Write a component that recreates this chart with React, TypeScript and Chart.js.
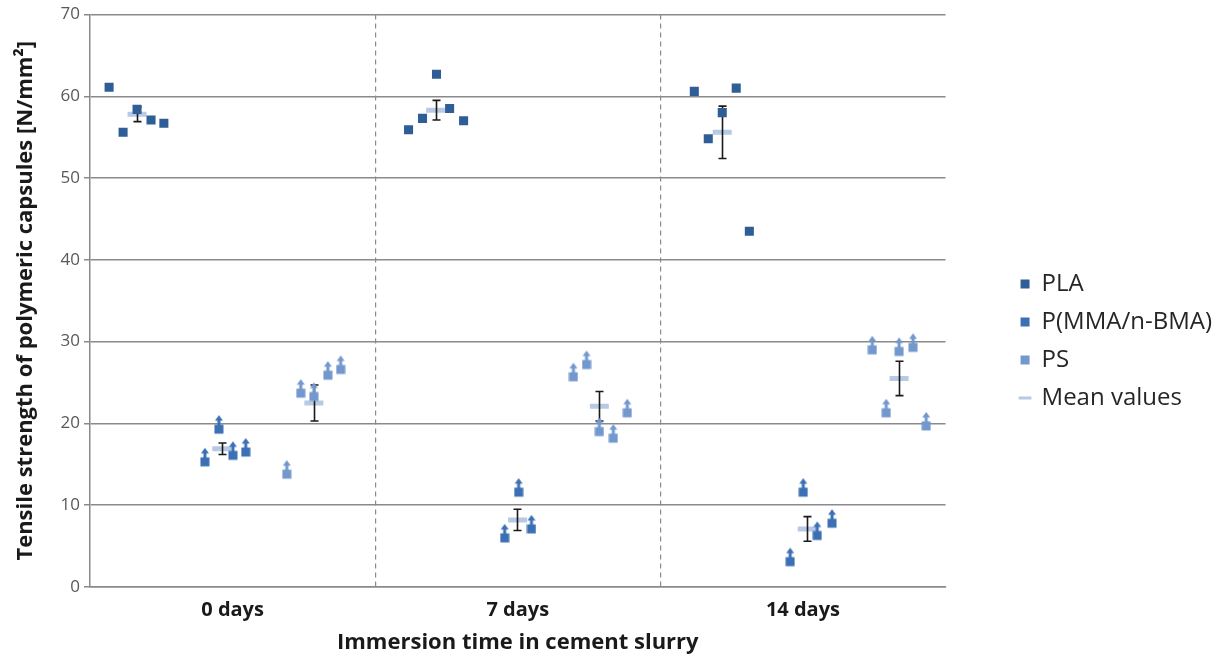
import React, { useEffect, useRef } from 'react';
import { Chart, registerables } from 'chart.js';

Chart.register(...registerables);

// ---- Data -------------------------------------------------------------
const categories = ['0 days', '7 days', '14 days'];
const seriesNames = ['PLA', 'P(MMA/n-BMA)', 'PS', 'Mean values'];

// x = position along the category axis (each category spans one unit)
const plaX = [0.067, 0.116, 0.165, 0.214, 0.259, 1.117, 1.166, 1.215, 1.261, 1.31, 2.119, 2.168, 2.217, 2.266, 2.312];
const plaY = [61.1, 55.6, 58.4, 57.1, 56.7, 55.9, 57.3, 62.7, 58.5, 57.0, 60.6, 54.8, 58.0, 61.0, 43.5];

const pmmaX = [0.403, 0.452, 0.501, 0.546, 1.454, 1.503, 1.548, 2.455, 2.501, 2.55, 2.602];
const pmmaY = [15.3, 19.3, 16.1, 16.5, 6.0, 11.6, 7.1, 3.1, 11.6, 6.3, 7.8];

const psX = [0.69, 0.739, 0.785, 0.834, 0.879, 1.695, 1.741, 1.786, 1.835, 1.884, 2.743, 2.792, 2.837, 2.886, 2.932];
const psY = [13.8, 23.7, 23.3, 25.9, 26.6, 25.7, 27.2, 19.0, 18.2, 21.3, 29.0, 21.3, 28.8, 29.3, 19.7];

const meanX = [0.165, 0.462, 0.785, 1.212, 1.499, 1.786, 2.217, 2.515, 2.837];
const meanY = [57.8, 16.9, 22.5, 58.3, 8.2, 22.1, 55.6, 7.1, 25.5];
const meanErr = [0.9, 0.7, 2.2, 1.2, 1.3, 1.8, 3.2, 1.5, 2.1];

const yTicks = [0, 10, 20, 30, 40, 50, 60, 70];

// ---- Styles -----------------------------------------------------------
const COLORS = ['#2F5E97', '#3C70B4', '#7398CE', '#B7C9E4'];
const FONT = "'Open Sans', 'Noto Sans', sans-serif";
const GRID = '#8A8A8A';

function makeArrowMarker(color: string): HTMLCanvasElement {
  const c = document.createElement('canvas');
  c.width = 10;
  c.height = 30;
  const g = c.getContext('2d')!;
  g.fillStyle = color;
  // square centred on the canvas centre
  g.fillRect(0.5, 10.5, 9, 9);
  // shaft
  g.fillRect(3.5, 6, 3, 5);
  // head
  g.beginPath();
  g.moveTo(5, 1);
  g.lineTo(9, 6.5);
  g.lineTo(1, 6.5);
  g.closePath();
  g.fill();
  return c;
}

const MEAN_INDEX = 3;

const errorBarPlugin = {
  id: 'errorBars',
  afterDatasetDraw(chart: any, args: any) {
    if (args.index !== MEAN_INDEX) return;
    const { ctx, scales } = chart;
    const x = scales.x;
    const y = scales.y;
    ctx.save();
    ctx.strokeStyle = '#1A1A1A';
    ctx.lineWidth = 1.6;
    meanX.forEach((mx, i) => {
      const px = Math.round(x.getPixelForValue(mx)) + 0.5;
      const top = y.getPixelForValue(meanY[i] + meanErr[i]);
      const bot = y.getPixelForValue(meanY[i] - meanErr[i]);
      ctx.beginPath();
      ctx.moveTo(px, top);
      ctx.lineTo(px, bot);
      ctx.moveTo(px - 4, top);
      ctx.lineTo(px + 4, top);
      ctx.moveTo(px - 4, bot);
      ctx.lineTo(px + 4, bot);
      ctx.stroke();
    });
    ctx.restore();
  },
};

export default function App() {
  const ref = useRef<HTMLCanvasElement | null>(null);

  useEffect(() => {
    if (!ref.current) return;
    const pmmaMarker = makeArrowMarker(COLORS[1]);
    const psMarker = makeArrowMarker(COLORS[2]);

    const toPts = (xs: number[], ys: number[]) => xs.map((v, i) => ({ x: v, y: ys[i] }));

    const chart = new Chart(ref.current, {
      type: 'scatter',
      data: {
        datasets: [
          {
            label: seriesNames[0],
            data: toPts(plaX, plaY),
            pointStyle: 'rect',
            pointRadius: 6.4,
            pointBorderWidth: 0,
            backgroundColor: COLORS[0],
            borderColor: COLORS[0],
            order: 1,
          },
          {
            label: seriesNames[1],
            data: toPts(pmmaX, pmmaY),
            pointStyle: pmmaMarker as any,
            backgroundColor: COLORS[1],
            borderColor: COLORS[1],
            order: 2,
          },
          {
            label: seriesNames[2],
            data: toPts(psX, psY),
            pointStyle: psMarker as any,
            backgroundColor: COLORS[2],
            borderColor: COLORS[2],
            order: 3,
          },
          {
            label: seriesNames[3],
            data: toPts(meanX, meanY),
            pointStyle: 'line',
            pointRadius: 9.5,
            pointBorderWidth: 5,
            borderColor: COLORS[3],
            backgroundColor: COLORS[3],
            order: 4,
          },
        ],
      },
      options: {
        animation: false,
        responsive: true,
        maintainAspectRatio: false,
        layout: { padding: { top: 14, right: 0, bottom: 0, left: 0 } },
        plugins: {
          tooltip: { enabled: false },
          legend: {
            position: 'right',
            maxWidth: 320,
            title: { display: true, text: ' ', font: { size: 5 }, padding: 2.5 },
            labels: {
              usePointStyle: true,
              boxWidth: 9,
              boxHeight: 9,
              padding: 14,
              color: '#262626',
              font: { family: FONT, size: 24 },
              generateLabels: (ch: any) =>
                ch.data.datasets.map((ds: any, i: number) => ({
                  text: ds.label,
                  fillStyle: COLORS[i],
                  strokeStyle: COLORS[i],
                  lineWidth: i === MEAN_INDEX ? 3 : 0,
                  pointStyle: i === MEAN_INDEX ? 'line' : 'rect',
                  hidden: false,
                  datasetIndex: i,
                  fontColor: '#262626',
                })),
            },
          },
        },
        scales: {
          x: {
            type: 'linear',
            min: 0,
            max: 3,
            afterBuildTicks: (s: any) => {
              s.ticks = [0, 0.5, 1, 1.5, 2, 2.5, 3].map((v) => ({ value: v }));
            },
            afterFit: (s: any) => {
              s.height = 70;
            },
            ticks: {
              autoSkip: false,
              maxRotation: 0,
              padding: 11,
              color: '#1A1A1A',
              font: { family: FONT, size: 20, weight: 'bold' },
              callback: (v: any) => {
                const n = Number(v);
                return Math.abs(n % 1 - 0.5) < 1e-6 ? categories[Math.floor(n)] : '';
              },
            },
            grid: {
              drawTicks: false,
              lineWidth: 1.2,
              color: (c: any) => {
                const v = c.tick ? c.tick.value : -1;
                return v === 1 || v === 2 ? GRID : 'rgba(0,0,0,0)';
              },
            },
            border: { display: true, color: GRID, width: 1.5, dash: [5, 4] },
            title: {
              display: true,
              text: 'Immersion time in cement slurry',
              color: '#1A1A1A',
              font: { family: FONT, size: 22, weight: 'bold' },
              padding: { top: 0, bottom: 1 },
            },
          },
          // spacer between the plot area and the legend
          gap: {
            type: 'linear',
            position: 'right',
            display: true,
            grid: { display: false, drawOnChartArea: false },
            ticks: { display: false },
            border: { display: false },
            afterFit: (s: any) => {
              s.width = 61;
            },
          },
          y: {
            min: 0,
            max: 70,
            afterBuildTicks: (s: any) => {
              s.ticks = yTicks.map((v) => ({ value: v }));
            },
            afterFit: (s: any) => {
              s.width = 90;
            },
            ticks: {
              padding: 4,
              color: '#595959',
              font: { family: FONT, size: 17 },
            },
            grid: { color: GRID, lineWidth: 1.5, tickLength: 6 },
            border: { display: true, color: GRID, width: 1.5 },
            title: {
              display: true,
              text: 'Tensile strength of polymeric capsules [N/mm²]',
              color: '#1A1A1A',
              font: { family: FONT, size: 22, weight: 'bold' },
              padding: { top: 13, bottom: 0 },
            },
          },
        },
      } as any,
      plugins: [errorBarPlugin],
    });
    return () => chart.destroy();
  }, []);

  return (
    <div style={{ position: 'fixed', left: 0, top: 0, width: 1222, height: 657, background: '#fff' }}>
      <canvas ref={ref} />
    </div>
  );
}
